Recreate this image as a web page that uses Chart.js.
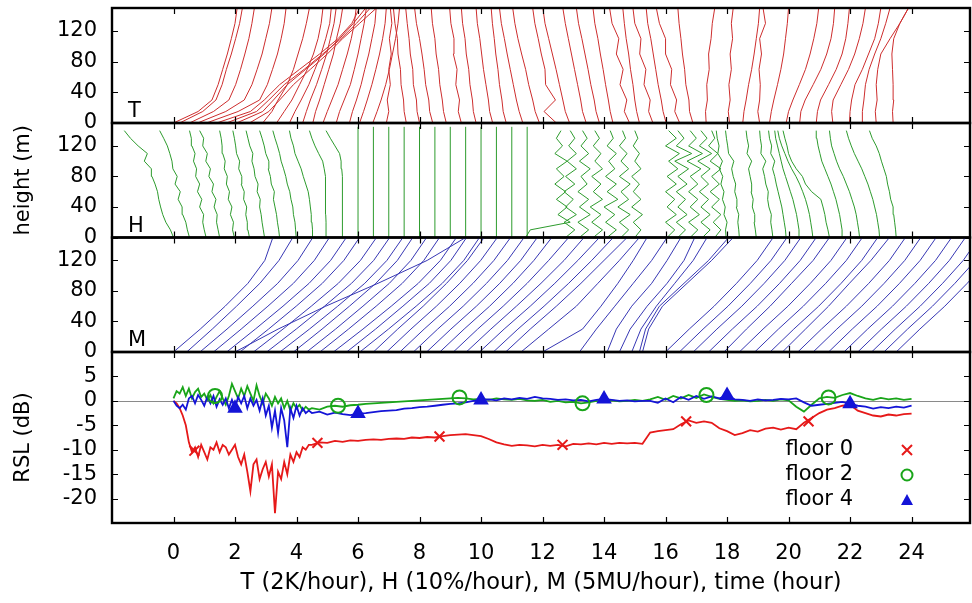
<!DOCTYPE html>
<html lang="en">
<head>
<meta charset="UTF-8">
<title>Profiles and RSL</title>
<script src="https://cdn.jsdelivr.net/npm/chart.js"></script>
<style>
  body { margin: 0; background: #fff; }
  #wrap { position: relative; width: 972px; height: 603px; }
  #wrap canvas { position: absolute; left: 0; top: 0; }
</style>
</head>
<body>
<div id="wrap">
  <canvas id="cT" width="972" height="603"></canvas>
  <canvas id="cH" width="972" height="603"></canvas>
  <canvas id="cM" width="972" height="603"></canvas>
  <canvas id="cR" width="972" height="603"></canvas>
</div>
<script>
// ---- axes ----
const X_TICKS = [0, 2, 4, 6, 8, 10, 12, 14, 16, 18, 20, 22, 24];
const HEIGHT_TICKS = [0, 40, 80, 120];
const RSL_TICKS = [-20, -15, -10, -5, 0, 5];
const X_TITLE = 'T (2K/hour), H (10%/hour), M (5MU/hour), time (hour)';

// ---- T profiles (x position at each height) ----
const T_HEIGHTS = [0, 15, 30, 50, 70, 90, 110, 130, 150];
const T_PROFILES = [
  [0.00, 0.80, 1.25, 1.45, 1.60, 1.75, 1.88, 2.00, 2.07],
  [0.20, 0.95, 1.38, 1.58, 1.72, 1.88, 2.02, 2.15, 2.24],
  [0.52, 1.30, 1.80, 2.02, 2.18, 2.32, 2.45, 2.55, 2.63],
  [0.78, 1.70, 2.30, 2.55, 2.72, 2.88, 3.00, 3.12, 3.20],
  [1.07, 2.10, 2.80, 3.05, 3.22, 3.38, 3.50, 3.60, 3.66],
  [1.40, 2.50, 2.95, 3.45, 4.10, 4.75, 5.35, 5.80, 6.05],
  [1.72, 2.70, 3.10, 3.60, 4.25, 4.85, 5.45, 5.95, 6.40],
  [2.05, 2.90, 3.25, 3.70, 4.30, 4.90, 5.40, 5.85, 6.25],
  [2.47, 3.10, 3.45, 3.90, 4.45, 5.00, 5.50, 6.05, 6.60],
  [2.90, 3.20, 3.40, 3.70, 3.90, 4.05, 4.20, 4.32, 4.42],
  [3.35, 3.60, 3.85, 4.10, 4.35, 4.55, 4.70, 4.80, 4.86],
  [3.77, 3.95, 4.15, 4.40, 4.60, 4.80, 4.95, 5.08, 5.13],
  [4.20, 4.32, 4.45, 4.65, 4.82, 4.98, 5.10, 5.22, 5.29],
  [4.53, 4.62, 4.75, 4.90, 5.05, 5.20, 5.30, 5.42, 5.50],
  [4.86, 5.00, 5.15, 5.35, 5.50, 5.65, 5.78, 5.88, 5.94],
  [5.29, 5.40, 5.55, 5.75, 5.88, 6.00, 6.10, 6.20, 6.27],
  [5.72, 5.82, 5.95, 6.10, 6.22, 6.35, 6.45, 6.55, 6.59],
  [6.05, 6.18, 6.30, 6.45, 6.58, 6.70, 6.80, 6.88, 6.92],
  [6.48, 6.62, 6.75, 6.90, 7.02, 7.12, 7.22, 7.30, 7.35],
  [6.92, 7.00, 6.95, 7.05, 7.00, 7.08, 7.02, 7.10, 7.05],
  [7.57, 7.50, 7.48, 7.40, 7.38, 7.30, 7.28, 7.20, 7.15],
  [8.00, 7.92, 7.90, 7.80, 7.78, 7.70, 7.66, 7.60, 7.55],
  [8.43, 8.33, 8.30, 8.20, 8.15, 8.08, 8.00, 7.90, 7.84],
  [8.87, 8.78, 8.74, 8.66, 8.62, 8.54, 8.50, 8.42, 8.38],
  [9.36, 9.26, 9.30, 9.18, 9.22, 9.10, 9.12, 9.02, 8.98],
  [9.84, 9.75, 9.72, 9.64, 9.60, 9.52, 9.48, 9.40, 9.36],
  [10.38, 10.28, 10.24, 10.16, 10.08, 10.02, 9.96, 9.88, 9.84],
  [10.82, 10.72, 10.68, 10.60, 10.55, 10.48, 10.43, 10.37, 10.33],
  [11.36, 11.24, 11.15, 11.05, 10.95, 10.85, 10.76, 10.66, 10.60],
  [11.90, 11.76, 11.68, 11.55, 11.45, 11.32, 11.20, 11.10, 11.03],
  [12.45, 12.05, 12.42, 12.10, 12.08, 11.96, 11.86, 11.75, 11.68],
  [12.88, 12.74, 12.66, 12.55, 12.44, 12.32, 12.20, 12.08, 12.01],
  [13.42, 13.30, 13.24, 13.14, 13.04, 12.94, 12.84, 12.74, 12.66],
  [13.85, 13.74, 13.68, 13.57, 13.48, 13.38, 13.28, 13.17, 13.10],
  [14.29, 14.20, 14.14, 14.05, 13.97, 13.88, 13.80, 13.70, 13.64],
  [14.83, 14.66, 14.74, 14.52, 14.62, 14.40, 14.48, 14.26, 14.18],
  [15.15, 15.06, 15.00, 14.94, 14.86, 14.80, 14.72, 14.66, 14.61],
  [15.59, 15.45, 15.50, 15.30, 15.36, 15.16, 15.20, 15.00, 14.94],
  [16.02, 15.92, 15.86, 15.76, 15.68, 15.60, 15.52, 15.42, 15.37],
  [16.46, 16.30, 16.36, 16.16, 16.20, 16.00, 16.00, 15.80, 15.70],
  [16.89, 16.78, 16.76, 16.66, 16.62, 16.55, 16.50, 16.44, 16.40],
  [17.32, 17.30, 17.36, 17.34, 17.42, 17.40, 17.48, 17.52, 17.60],
  [18.08, 18.04, 18.10, 18.06, 18.14, 18.10, 18.18, 18.14, 18.20],
  [18.51, 18.55, 18.62, 18.70, 18.80, 18.88, 18.95, 19.02, 19.06],
  [19.06, 19.00, 19.06, 19.08, 19.04, 19.12, 19.06, 19.25, 19.17],
  [19.38, 19.44, 19.52, 19.64, 19.75, 19.84, 19.90, 19.96, 20.00],
  [19.92, 20.00, 20.14, 20.35, 20.55, 20.70, 20.82, 20.92, 20.98],
  [20.36, 20.40, 20.54, 20.80, 21.05, 21.24, 21.38, 21.46, 21.50],
  [20.90, 20.94, 21.04, 21.30, 21.55, 21.74, 21.86, 21.93, 21.98],
  [21.44, 21.40, 21.45, 21.70, 21.95, 22.15, 22.30, 22.42, 22.50],
  [21.98, 22.00, 22.05, 22.16, 22.40, 22.60, 22.80, 22.92, 23.00],
  [22.42, 22.40, 22.45, 22.50, 22.62, 22.80, 23.00, 23.16, 23.30],
  [22.85, 22.82, 22.88, 22.85, 22.90, 23.00, 23.30, 23.62, 23.90],
  [23.40, 23.38, 23.42, 23.40, 23.38, 23.36, 23.42, 23.62, 23.90]
];

// ---- H profiles ----
const H_HEIGHTS = [0, 10, 20, 30, 40, 50, 60, 70, 80, 90, 100, 110, 120, 130, 140];
const H_PROFILES = [
  [0.00, -0.10, -0.25, -0.35, -0.42, -0.48, -0.52, -0.60, -0.70, -0.72, -0.95, -0.85, -1.15, -1.40, -1.60],
  [0.52, 0.45, 0.40, 0.30, 0.28, 0.15, 0.22, 0.05, 0.12, -0.02, -0.05, -0.12, -0.20, -0.32, -0.45],
  [1.06, 1.00, 0.95, 0.98, 0.85, 0.92, 0.78, 0.85, 0.72, 0.75, 0.65, 0.70, 0.60, 0.58, 0.52],
  [1.50, 1.45, 1.40, 1.42, 1.32, 1.38, 1.25, 1.30, 1.15, 1.20, 1.05, 1.10, 0.95, 0.98, 0.85],
  [1.98, 1.92, 1.95, 1.85, 1.90, 1.78, 1.82, 1.72, 1.75, 1.65, 1.68, 1.60, 1.58, 1.55, 1.50],
  [2.47, 2.42, 2.40, 2.35, 2.38, 2.28, 2.30, 2.20, 2.22, 2.12, 2.15, 2.05, 2.02, 1.98, 1.93],
  [2.96, 2.92, 2.88, 2.85, 2.80, 2.82, 2.72, 2.75, 2.65, 2.62, 2.55, 2.58, 2.48, 2.42, 2.36],
  [3.45, 3.42, 3.38, 3.35, 3.30, 3.25, 3.28, 3.18, 3.15, 3.08, 3.10, 3.00, 2.95, 2.88, 2.80],
  [3.99, 3.97, 3.95, 3.90, 3.88, 3.82, 3.78, 3.70, 3.65, 3.58, 3.50, 3.45, 3.38, 3.30, 3.23],
  [4.53, 4.52, 4.50, 4.48, 4.45, 4.42, 4.38, 4.30, 4.22, 4.15, 4.05, 3.95, 3.90, 3.82, 3.77],
  [4.96, 4.96, 4.96, 4.95, 4.95, 4.95, 4.94, 4.94, 4.93, 4.90, 4.85, 4.72, 4.60, 4.50, 4.42],
  [5.50, 5.50, 5.50, 5.50, 5.50, 5.49, 5.49, 5.48, 5.48, 5.47, 5.45, 5.40, 5.25, 5.10, 4.96],
  [11.45, 11.60, 12.90, 12.50, 12.80, 12.45, 12.75, 12.40, 12.70, 12.45, 12.80, 12.40, 12.65, 12.45, 12.60],
  [12.75, 13.05, 12.70, 13.10, 12.75, 13.00, 12.70, 13.05, 12.75, 13.10, 12.80, 13.10, 12.85, 13.05, 12.90],
  [13.20, 13.50, 13.15, 13.55, 13.20, 13.50, 13.15, 13.45, 13.25, 13.55, 13.20, 13.50, 13.25, 13.45, 13.30],
  [13.65, 13.95, 13.60, 13.90, 13.55, 13.95, 13.65, 13.90, 13.60, 13.95, 13.70, 13.90, 13.65, 13.85, 13.70],
  [14.10, 14.40, 14.05, 14.35, 14.00, 14.45, 14.10, 14.40, 14.05, 14.35, 14.15, 14.40, 14.10, 14.30, 14.20],
  [14.55, 14.80, 14.50, 14.85, 14.45, 14.80, 14.55, 14.85, 14.50, 14.80, 14.55, 14.75, 14.50, 14.70, 14.60],
  [15.00, 15.20, 14.95, 15.25, 14.90, 15.20, 14.95, 15.15, 14.90, 15.20, 15.00, 15.15, 14.95, 15.10, 15.00],
  [16.05, 16.30, 16.00, 16.35, 16.05, 16.30, 16.00, 16.35, 16.05, 16.40, 16.10, 16.45, 16.00, 16.35, 16.10],
  [16.40, 16.65, 16.35, 16.70, 16.40, 16.65, 16.35, 16.70, 16.40, 16.75, 16.30, 16.85, 16.35, 16.60, 16.40],
  [16.80, 17.05, 16.75, 17.10, 16.80, 17.05, 16.75, 17.05, 16.80, 17.15, 16.70, 17.20, 16.75, 17.00, 16.80],
  [17.20, 17.45, 17.15, 17.45, 17.15, 17.40, 17.10, 17.40, 17.15, 17.45, 17.05, 17.50, 17.10, 17.35, 17.15],
  [17.60, 17.80, 17.55, 17.80, 17.50, 17.75, 17.45, 17.75, 17.50, 17.80, 17.45, 17.70, 17.40, 17.60, 17.50],
  [17.97, 17.95, 18.00, 17.90, 17.94, 17.85, 17.90, 17.80, 17.86, 17.75, 17.85, 17.70, 17.74, 17.68, 17.65],
  [18.40, 18.38, 18.35, 18.38, 18.30, 18.32, 18.25, 18.28, 18.20, 18.15, 18.22, 18.05, 18.02, 17.98, 17.95],
  [18.95, 18.92, 18.88, 18.90, 18.82, 18.85, 18.78, 18.80, 18.75, 18.70, 18.80, 18.65, 18.70, 18.65, 18.62],
  [19.49, 19.46, 19.42, 19.44, 19.36, 19.32, 19.34, 19.26, 19.22, 19.16, 19.26, 19.10, 19.12, 19.08, 19.06],
  [19.92, 19.90, 19.86, 19.82, 19.78, 19.72, 19.66, 19.60, 19.55, 19.48, 19.55, 19.42, 19.45, 19.38, 19.35],
  [20.36, 20.34, 20.30, 20.26, 20.20, 20.14, 20.06, 19.98, 19.90, 19.82, 19.76, 19.70, 19.64, 19.58, 19.55],
  [20.79, 20.76, 20.72, 20.68, 20.62, 20.55, 20.46, 20.36, 20.24, 20.10, 19.98, 19.88, 19.78, 19.70, 19.65],
  [21.33, 21.28, 21.22, 21.18, 21.12, 21.05, 20.75, 20.55, 20.45, 20.25, 20.10, 20.00, 19.95, 19.88, 19.82],
  [21.77, 21.74, 21.70, 21.66, 21.60, 21.54, 21.46, 21.38, 21.28, 21.18, 21.08, 21.02, 20.96, 20.92, 20.90],
  [22.31, 22.28, 22.24, 22.20, 22.14, 22.06, 21.98, 21.88, 21.78, 21.66, 21.56, 21.48, 21.40, 21.36, 21.33],
  [22.96, 22.94, 22.90, 22.86, 22.80, 22.74, 22.66, 22.58, 22.48, 22.38, 22.26, 22.14, 22.04, 21.95, 21.88],
  [23.50, 23.48, 23.45, 23.42, 23.40, 23.32, 23.28, 23.22, 23.18, 23.10, 23.02, 22.95, 22.85, 22.72, 22.63]
];
// straight (unchanged) H profiles
const H_FLAT_TIMES = [6.0, 6.5, 7.0, 7.5, 8.0, 8.5, 9.0, 9.5, 10.0, 10.5, 11.0, 11.5];
const H_FLAT_HEIGHTS = [0, 145];

// ---- M profiles ----
const M_HEIGHTS = [0, 30, 60, 90, 120, 150];
const M_PROFILES = [
  [0.00, 0.87, 1.68, 2.42, 2.97, 3.23],
  [0.43, 1.26, 2.05, 2.81, 3.43, 3.88],
  [0.86, 1.74, 2.58, 3.39, 4.05, 4.53],
  [1.30, 2.20, 3.07, 3.90, 4.58, 5.07],
  [1.73, 2.66, 3.56, 4.41, 5.11, 5.62],
  [2.00, 3.40, 4.95, 6.65, 8.25, 9.50],
  [2.16, 3.09, 3.99, 4.84, 5.54, 6.05],
  [2.60, 3.56, 4.48, 5.36, 6.08, 6.60],
  [3.03, 3.99, 4.91, 5.79, 6.51, 7.03],
  [3.46, 4.42, 5.34, 6.22, 6.94, 7.46],
  [3.90, 4.83, 5.72, 6.58, 7.28, 7.78],
  [4.33, 5.27, 6.16, 7.02, 7.72, 8.23],
  [4.76, 5.69, 6.59, 7.44, 8.14, 8.65],
  [5.20, 6.16, 7.08, 7.96, 8.68, 9.20],
  [5.63, 6.57, 7.46, 8.32, 9.02, 9.53],
  [6.06, 6.99, 7.89, 8.74, 9.44, 9.95],
  [6.50, 7.29, 8.12, 8.88, 9.56, 10.10],
  [6.93, 7.72, 8.55, 9.31, 9.99, 10.53],
  [7.36, 8.15, 8.98, 9.74, 10.42, 10.96],
  [7.80, 8.59, 9.42, 10.18, 10.86, 11.40],
  [8.23, 9.02, 9.85, 10.61, 11.29, 11.83],
  [8.66, 9.45, 10.28, 11.04, 11.72, 12.30],
  [9.10, 9.89, 10.72, 11.50, 12.20, 12.85],
  [9.52, 10.32, 11.15, 11.95, 12.70, 13.35],
  [9.95, 10.75, 11.60, 12.40, 13.15, 13.85],
  [10.40, 11.20, 12.05, 12.85, 13.60, 14.30],
  [10.80, 11.60, 12.45, 13.25, 14.00, 14.75],
  [11.30, 12.20, 13.10, 13.80, 14.50, 15.15],
  [12.00, 13.30, 13.90, 14.45, 14.95, 15.40],
  [13.20, 13.75, 14.35, 14.95, 15.55, 16.05],
  [14.10, 14.40, 14.90, 15.55, 16.05, 16.50],
  [14.50, 14.85, 15.40, 16.05, 16.60, 16.95],
  [14.90, 15.20, 15.70, 16.30, 16.90, 17.35],
  [15.15, 15.35, 15.80, 16.60, 17.40, 18.05],
  [15.25, 15.45, 15.90, 16.70, 17.50, 18.20],
  [16.00, 16.77, 17.58, 18.31, 18.98, 19.50],
  [16.45, 17.22, 18.03, 18.76, 19.43, 19.95],
  [16.90, 17.67, 18.48, 19.21, 19.88, 20.40],
  [17.40, 18.17, 18.98, 19.71, 20.38, 20.90],
  [17.90, 18.63, 19.40, 20.10, 20.80, 21.33],
  [18.40, 19.17, 19.98, 20.71, 21.38, 21.90],
  [18.90, 19.67, 20.48, 21.21, 21.88, 22.40],
  [19.40, 20.17, 20.98, 21.71, 22.38, 22.90],
  [19.80, 20.55, 21.30, 21.98, 22.68, 23.28],
  [20.30, 21.07, 21.88, 22.61, 23.28, 23.80],
  [20.80, 21.57, 22.38, 23.11, 23.78, 24.30],
  [21.30, 22.07, 22.88, 23.61, 24.28, 24.80],
  [21.80, 22.57, 23.38, 24.11, 24.78, 25.30],
  [22.25, 23.02, 23.83, 24.56, 25.23, 25.75],
  [22.70, 23.47, 24.28, 25.01, 25.68, 26.20],
  [23.10, 23.87, 24.68, 25.41, 26.08, 26.60],
  [23.50, 24.27, 25.08, 25.81, 26.48, 27.00]
];

// ---- RSL (dB) ----
const RSL_TIME = [0, 0.1, 0.2, 0.3, 0.4, 0.5, 0.6, 0.7, 0.8, 0.9, 1, 1.1, 1.2, 1.3, 1.4, 1.5, 1.6, 1.7, 1.8, 1.9,
  2, 2.1, 2.2, 2.3, 2.4, 2.5, 2.6, 2.7, 2.8, 2.9, 3, 3.1, 3.2, 3.3, 3.4, 3.5, 3.6, 3.7, 3.8, 3.9, 4, 4.1, 4.2, 4.3, 4.4,
  4.5, 4.75, 5, 5.25, 5.5, 5.75, 6, 6.25, 6.5, 6.75, 7, 7.25, 7.5, 7.75, 8, 8.25, 8.5, 8.75, 9, 9.25, 9.5, 9.75,
  10, 10.25, 10.5, 10.75, 11, 11.25, 11.5, 11.75, 12, 12.25, 12.5, 12.75, 13, 13.25, 13.5, 13.75, 14, 14.25, 14.5, 14.75,
  15, 15.25, 15.5, 15.75, 16, 16.25, 16.5, 16.75, 17, 17.25, 17.5, 17.75, 18, 18.25, 18.5, 18.75, 19, 19.25, 19.5, 19.75,
  20, 20.25, 20.5, 20.75, 21, 21.25, 21.5, 21.75, 22, 22.25, 22.5, 22.75, 23, 23.25, 23.5, 23.75, 24];
const RSL_FLOOR0 = [0, -0.5, -1.5, -3.0, -5.0, -8.5, -10.5, -9.5, -11.5, -9.0, -10.5, -12.0, -9.5, -10.0, -8.5, -10.5, -9.0, -9.5, -11.0, -10.0,
  -9.0, -11.5, -13.0, -11.0, -14.5, -18.5, -13.0, -12.0, -16.0, -14.0, -12.5, -15.5, -13.0, -23.0, -14.5, -16.0, -12.5, -15.0, -11.0, -12.5, -10.5, -11.5, -9.5, -10.0, -9.0,
  -9.0, -8.5, -8.6, -8.2, -8.4, -8.1, -8.2, -8.0, -7.9, -8.0, -7.8, -7.7, -7.8, -7.5, -7.6, -7.4, -7.5, -7.2, -7.0, -6.9, -6.8, -7.0,
  -7.2, -7.8, -8.5, -8.9, -9.2, -9.0, -9.1, -9.3, -9.0, -9.2, -9.0, -9.3, -8.8, -8.9, -8.7, -8.9, -8.6, -8.8, -8.6, -8.7,
  -8.6, -8.8, -6.5, -6.2, -6.0, -5.8, -4.8, -4.0, -4.5, -4.2, -4.5, -5.6, -6.2, -7.0, -6.6, -6.0, -6.3, -5.7, -5.5, -5.9,
  -5.5, -5.8, -4.5, -3.5, -2.5, -1.8, -1.5, -1.0, -0.8, -2.0, -2.5, -3.0, -3.2, -2.8, -3.0, -2.7, -2.6];
const RSL_FLOOR2 = [0.5, 2.0, 1.5, 2.8, 1.0, 2.5, 0.5, 1.8, 2.5, 0.8, 1.5, 0.2, 1.2, -0.5, 0.8, 2.0, 0.5, -0.8, 1.0, 3.5,
  2.0, 0.5, 2.5, 1.0, 3.0, 1.5, 0.0, 3.2, 1.0, -0.5, 1.5, 0.5, -1.0, 0.8, -0.5, 0.5, -1.5, 0.0, -2.0, -0.5, -1.5, -0.8, -2.0, -1.2, -1.8,
  -1.5, -1.8, -1.2, -1.0, -1.2, -0.9, -0.8, -0.6, -0.5, -0.4, -0.3, -0.2, -0.1, 0.0, 0.1, 0.2, 0.3, 0.4, 0.5, 0.6, 0.5, 0.3,
  0.4, 0.2, 0.5, 0.3, 0.2, 0.4, 0.1, 0.0, 0.2, -0.2, 0.0, -0.3, -0.2, -0.5, -0.3, 0.0, -0.2, 0.1, -0.1, 0.0,
  0.2, 0.0, 0.3, 0.8, 0.2, 1.0, 0.5, 1.2, 0.6, 1.3, 0.8, 0.4, 0.2, 0.0, 0.1, -0.1, 0.0, 0.2, 0.0, 0.3,
  0.1, -1.2, -2.2, -0.8, 0.5, 0.8, 0.6, 1.2, 1.6, 1.0, 0.5, 0.2, 0.6, 0.3, 0.5, 0.2, 0.4];
const RSL_FLOOR4 = [0.0, -1.0, -1.5, -0.8, -1.8, 0.5, 1.0, -0.5, 1.2, 0.2, -1.0, 0.8, -0.5, 1.0, -1.2, 0.3, -0.8, 0.5, -1.5, 0.2,
  -1.5, 0.8, -0.5, 1.0, -1.5, 0.5, -1.0, 0.2, -2.0, 0.5, -3.0, -1.0, -5.5, -2.0, -6.5, -1.5, -4.0, -9.5, -1.5, -3.5, -1.0, -3.0, -1.5, -2.5, -2.0,
  -2.5, -2.2, -2.8, -2.4, -2.7, -2.9, -2.6, -2.5, -2.3, -2.1, -2.0, -1.9, -1.6, -1.5, -1.3, -1.2, -1.0, -0.8, -0.6, -0.5, -0.3, 0.0,
  0.2, 0.3, 0.1, 0.5, 0.3, 0.6, 0.4, 0.8, 0.5, 0.4, 0.2, 0.3, 0.1, 0.2, -0.1, 0.2, 0.4, 0.2, 0.0, 0.1,
  -0.1, 0.0, 0.0, -0.4, 0.5, -0.3, 0.8, 0.2, 1.0, 0.4, 0.9, 0.5, 1.1, 0.3, 0.2, 0.0, 0.3, 0.1, 0.2, 0.4,
  0.3, 0.5, -0.3, -1.0, -0.8, -0.6, -0.4, -0.2, -0.6, -1.0, -1.2, -1.6, -1.3, -1.5, -1.2, -1.4, -1.0];
// marker positions
const FLOOR0_MARK_X = [0.68, 4.68, 8.65, 12.65, 16.67, 20.65];
const FLOOR0_MARK_Y = [-10.2, -8.6, -7.3, -9.0, -4.2, -4.2];
const FLOOR2_MARK_X = [1.35, 5.35, 9.3, 13.3, 17.33, 21.3];
const FLOOR2_MARK_Y = [1.0, -1.0, 0.7, -0.5, 1.2, 0.7];
const FLOOR4_MARK_X = [2.0, 6.0, 10.0, 14.0, 18.0, 22.0];
const FLOOR4_MARK_Y = [-1.5, -2.6, 0.2, 0.4, 1.1, -0.6];
const LEGEND_LABELS = ['floor 0', 'floor 2', 'floor 4'];

// ---- style ----
const FONT = '"DejaVu Sans", "Liberation Sans", sans-serif';
const RED = 'rgb(205,45,45)', GREEN = 'rgb(45,155,45)', BLUE = 'rgb(55,55,180)';
const RSL_COLORS = ['rgb(230,25,25)', 'rgb(25,165,25)', 'rgb(20,20,215)'];
Chart.defaults.font.family = FONT;
Chart.defaults.color = '#000';

function profileSets(profiles, heights, color) {
  return profiles.map(p => ({
    data: p.map((x, k) => ({ x: x, y: heights[k] })),
    showLine: true, borderColor: color, borderWidth: 1, pointRadius: 0
  }));
}

function seriesSet(ys, color, order) {
  return {
    data: RSL_TIME.map((t, k) => ({ x: t, y: ys[k] })),
    showLine: true, borderColor: color, borderWidth: 1.8, pointRadius: 0, order: order
  };
}

function markerSet(xs, ys, color, style, fill) {
  return {
    data: xs.map((x, k) => ({ x: x, y: ys[k] })),
    showLine: false, pointStyle: style, pointRadius: 7, pointBorderWidth: 2,
    pointBorderColor: color, pointBackgroundColor: fill, order: 0
  };
}

function drawMarker(ctx, style, x, y, color) {
  ctx.strokeStyle = color; ctx.fillStyle = color; ctx.lineWidth = 2;
  ctx.beginPath();
  if (style === 'crossRot') {
    ctx.moveTo(x - 5, y - 5); ctx.lineTo(x + 5, y + 5);
    ctx.moveTo(x + 5, y - 5); ctx.lineTo(x - 5, y + 5);
    ctx.stroke();
  } else if (style === 'circle') {
    ctx.arc(x, y, 5.5, 0, Math.PI * 2); ctx.stroke();
  } else {
    ctx.moveTo(x, y - 6); ctx.lineTo(x + 6, y + 5); ctx.lineTo(x - 6, y + 5); ctx.closePath(); ctx.fill();
  }
}

function framePlugin(cfg) {
  return {
    id: 'frame',
    beforeDatasetsDraw(chart) {
      if (!cfg.zeroLine) return;
      const { ctx, chartArea: a } = chart;
      const y0 = Math.round(chart.scales.y.getPixelForValue(0)) + 0.5;
      ctx.save();
      ctx.strokeStyle = '#8a8a8a'; ctx.lineWidth = 1.2;
      ctx.beginPath(); ctx.moveTo(a.left, y0); ctx.lineTo(a.right, y0); ctx.stroke();
      ctx.restore();
    },
    afterDraw(chart) {
      const { ctx, chartArea: a, scales } = chart;
      ctx.save();
      ctx.strokeStyle = '#000';
      ctx.lineWidth = 1.2;
      ctx.beginPath();
      X_TICKS.forEach(v => {
        const px = Math.round(scales.x.getPixelForValue(v)) + 0.5;
        ctx.moveTo(px, a.top); ctx.lineTo(px, a.top + 6);
        ctx.moveTo(px, a.bottom); ctx.lineTo(px, a.bottom - 6);
      });
      cfg.yTicks.forEach(v => {
        const py = Math.round(scales.y.getPixelForValue(v)) + 0.5;
        ctx.moveTo(a.left, py); ctx.lineTo(a.left + 6, py);
        ctx.moveTo(a.right, py); ctx.lineTo(a.right - 6, py);
      });
      ctx.stroke();
      ctx.lineWidth = 2.4;
      ctx.strokeRect(a.left, a.top, a.right - a.left, a.bottom - a.top);
      ctx.fillStyle = '#000';
      ctx.font = '21px ' + FONT;
      if (cfg.label) {
        ctx.textAlign = 'left'; ctx.textBaseline = 'alphabetic';
        ctx.fillText(cfg.label, a.left + 16, a.bottom - 6);
      }
      if (cfg.legend) {
        const styles = ['crossRot', 'circle', 'triangle'];
        LEGEND_LABELS.forEach((txt, i) => {
          const yc = 450 + i * 25;
          ctx.fillStyle = '#000';
          ctx.textAlign = 'right'; ctx.textBaseline = 'middle';
          ctx.fillText(txt, 853, yc);
          drawMarker(ctx, styles[i], 907, yc, RSL_COLORS[i]);
        });
      }
      ctx.restore();
    }
  };
}

function makePanel(id, top, bottom, datasets, yMin, yMax, yTicks, cfg) {
  const showX = !!cfg.showX;
  return new Chart(document.getElementById(id), {
    type: 'scatter',
    data: { datasets: datasets },
    options: {
      responsive: false, animation: false, devicePixelRatio: 1,
      layout: { autoPadding: false, padding: { top: top, bottom: showX ? 0 : 603 - bottom, left: 0, right: 2 } },
      plugins: { legend: { display: false }, tooltip: { enabled: false } },
      elements: { line: { tension: 0 } },
      scales: {
        x: {
          type: 'linear', min: -2, max: 25.9, display: showX,
          afterBuildTicks: s => { s.ticks = X_TICKS.map(v => ({ value: v })); },
          afterFit: s => {
            if (showX) s.height = 603 - bottom;
            s.paddingLeft = 0; s.paddingRight = 0;
          },
          grid: { display: false, drawTicks: false },
          border: { display: false },
          ticks: { padding: 18, font: { size: 21 }, maxRotation: 0, autoSkip: false },
          title: { display: showX, text: X_TITLE, font: { size: 22.5 }, padding: { top: 0, bottom: 6 } }
        },
        y: {
          type: 'linear', min: yMin, max: yMax,
          afterBuildTicks: s => { s.ticks = yTicks.map(v => ({ value: v })); },
          afterFit: s => { s.width = 112; s.paddingTop = 0; s.paddingBottom = 0; },
          grid: { display: false, drawTicks: false },
          border: { display: false },
          ticks: { padding: 15, font: { size: 21 }, autoSkip: false },
          title: { display: !!cfg.yTitle, text: cfg.yTitle || '', font: { size: 21 }, padding: { top: 11, bottom: 0 } }
        }
      }
    },
    plugins: [framePlugin({ yTicks: yTicks, label: cfg.label, zeroLine: cfg.zeroLine, legend: cfg.legend })]
  });
}

// T panel
makePanel('cT', 8, 123, profileSets(T_PROFILES, T_HEIGHTS, RED), 0, 150, HEIGHT_TICKS, { label: 'T' });

// H panel
const hSets = profileSets(H_PROFILES, H_HEIGHTS, GREEN).concat(
  H_FLAT_TIMES.map(t => ({
    data: H_FLAT_HEIGHTS.map(h => ({ x: t, y: h })),
    showLine: true, borderColor: GREEN, borderWidth: 1, pointRadius: 0
  })));
makePanel('cH', 123, 237.5, hSets, 0, 150, HEIGHT_TICKS, { label: 'H', yTitle: 'height (m)' });

// M panel
makePanel('cM', 237.5, 352, profileSets(M_PROFILES, M_HEIGHTS, BLUE), 0, 150, HEIGHT_TICKS, { label: 'M' });

// RSL panel
const rslSets = [
  markerSet(FLOOR0_MARK_X, FLOOR0_MARK_Y, RSL_COLORS[0], 'crossRot', RSL_COLORS[0]),
  markerSet(FLOOR2_MARK_X, FLOOR2_MARK_Y, RSL_COLORS[1], 'circle', 'rgba(0,0,0,0)'),
  markerSet(FLOOR4_MARK_X, FLOOR4_MARK_Y, RSL_COLORS[2], 'triangle', RSL_COLORS[2]),
  seriesSet(RSL_FLOOR4, RSL_COLORS[2], 1),
  seriesSet(RSL_FLOOR2, RSL_COLORS[1], 2),
  seriesSet(RSL_FLOOR0, RSL_COLORS[0], 3)
];
makePanel('cR', 352, 523, rslSets, -25, 10, RSL_TICKS, { showX: true, yTitle: 'RSL (dB)', zeroLine: true, legend: true });
</script>
</body>
</html>
